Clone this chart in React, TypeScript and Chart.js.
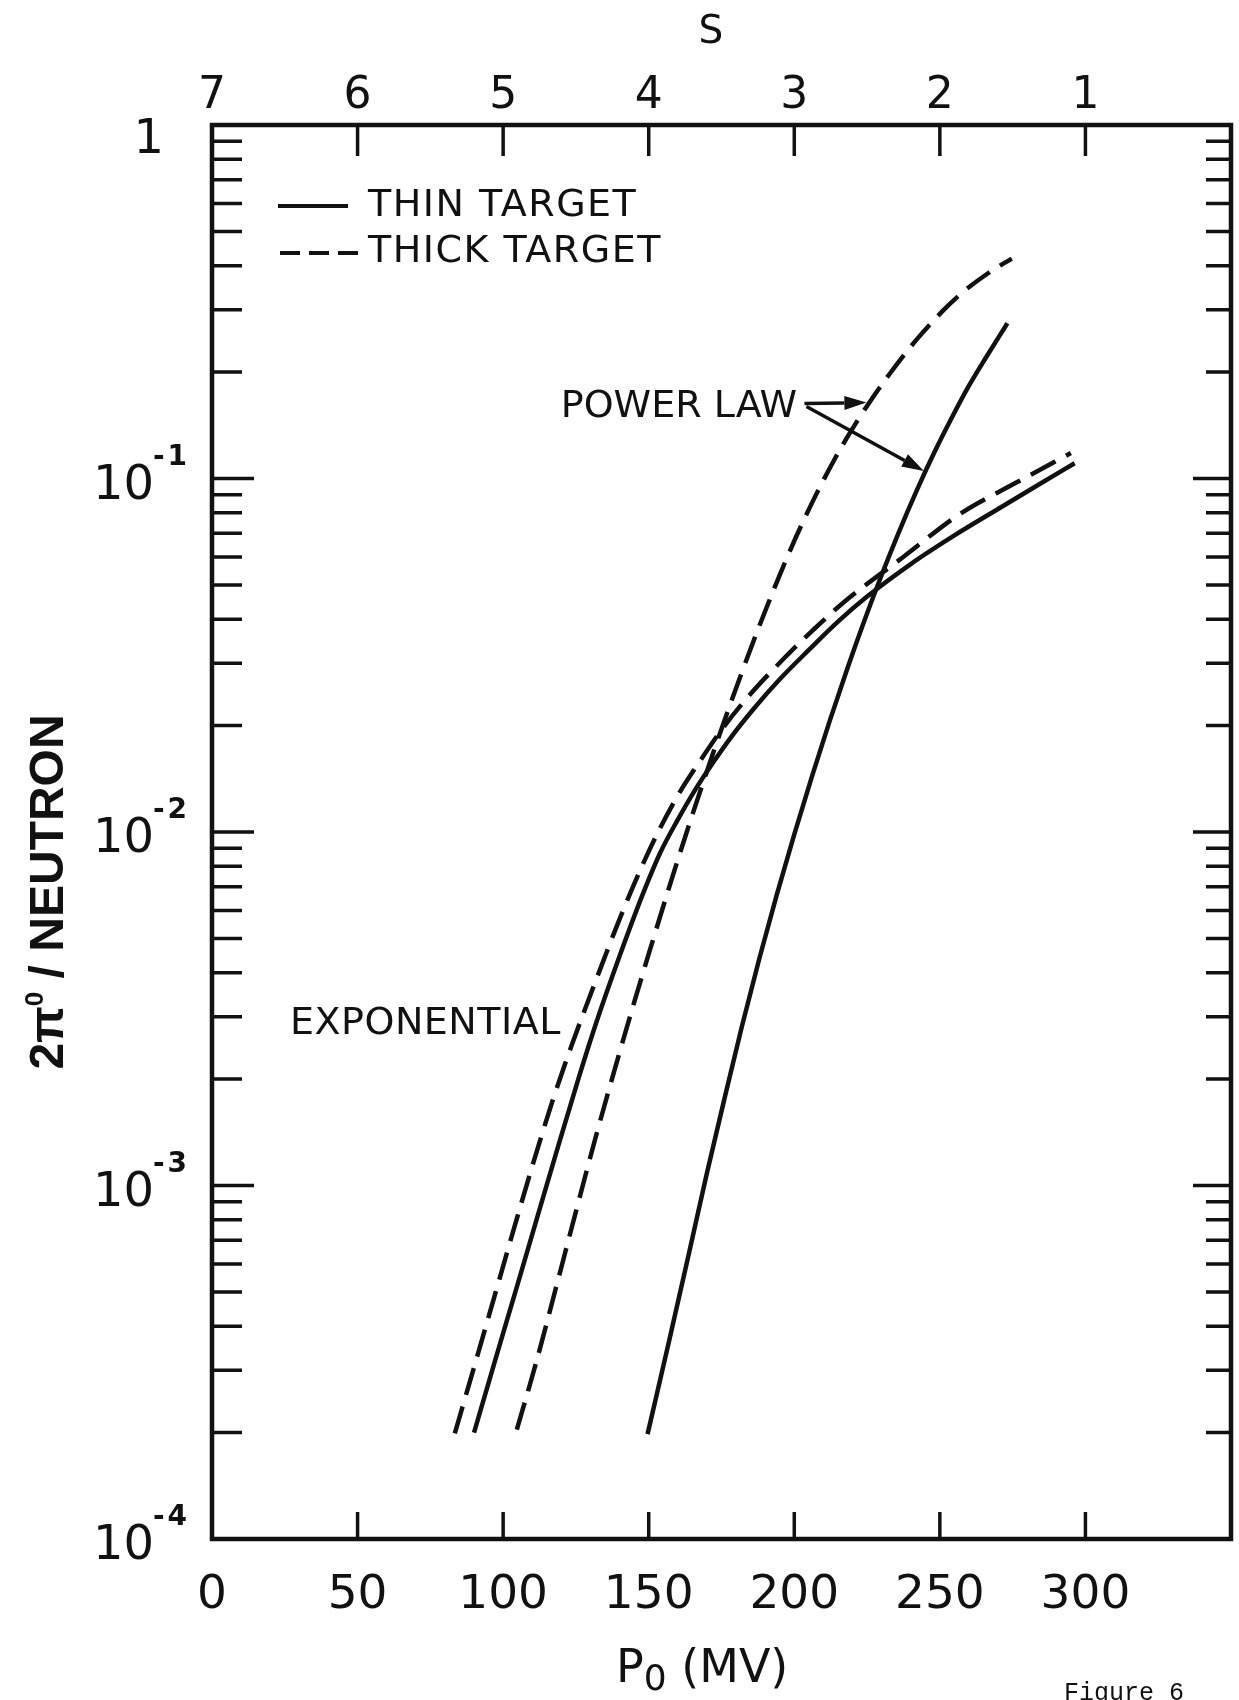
import { useEffect, useRef } from 'react';
import { Chart, registerables } from 'chart.js';

Chart.register(...registerables);

// ---------------- axis ranges & tick labels ----------------
const P0_MIN = 0;
const P0_MAX = 350;
const S_MIN = 0;
const S_MAX = 7;
const Y_MIN = 1e-4;
const Y_MAX = 1;

const X_TICKS = [0, 50, 100, 150, 200, 250, 300];
const X_TICK_LABELS = ['0', '50', '100', '150', '200', '250', '300'];
const S_TICKS = [7, 6, 5, 4, 3, 2, 1];
const S_TICK_LABELS = ['7', '6', '5', '4', '3', '2', '1'];
const Y_DECADES = [1e-4, 1e-3, 1e-2, 1e-1, 1];
const Y_LABEL_BASE = ['10', '10', '10', '10', '1'];
const Y_LABEL_EXP = ['-4', '-3', '-2', '-1', ''];
const Y_MINOR_STEPS = [2, 3, 4, 5, 6, 7, 8, 9];

const X_TITLE_MAIN = 'P';
const X_TITLE_SUB = '0';
const X_TITLE_REST = ' (MV)';
const TOP_TITLE = 'S';
const Y_TITLE_A = '2π';
const Y_TITLE_SUP = '0';
const Y_TITLE_B = ' / NEUTRON';
const LEGEND_LABELS = ['THIN TARGET', 'THICK TARGET'];
const POWER_LAW_TEXT = 'POWER LAW';
const EXPONENTIAL_TEXT = 'EXPONENTIAL';
const FIGURE_TEXT = 'Figure 6';

// ---------------- series (P0 in MV, 2π0 per neutron) ----------------
const THIN_EXP_P0 = [90, 97, 104, 111, 118, 126, 132, 140, 148, 154, 160, 166, 172, 178, 186, 195, 205, 215, 225, 240, 255, 270, 283, 296.3];
const THIN_EXP_Y = [2.0e-4, 3.15e-4, 4.94e-4, 7.76e-4, 1.219e-3, 2.023e-3, 2.891e-3, 4.457e-3, 6.68e-3, 8.75e-3, 1.084e-2, 1.318e-2, 1.567e-2, 1.841e-2, 2.228e-2, 2.704e-2, 3.273e-2, 3.936e-2, 4.634e-2, 5.728e-2, 6.902e-2, 8.2e-2, 9.51e-2, 0.1104];

const THICK_EXP_P0 = [83.4, 90.2, 97, 103.8, 110.5, 117.2, 123.6, 132.1, 140.1, 149.5, 158.8, 168.1, 176.1, 185.4, 196, 206.5, 216.5, 237.1, 256.9, 276.6, 295];
const THICK_EXP_Y = [1.99e-4, 3.1e-4, 4.85e-4, 7.6e-4, 1.17e-3, 1.76e-3, 2.5e-3, 3.85e-3, 5.7e-3, 8.63e-3, 1.22e-2, 1.61e-2, 2.0e-2, 2.48e-2, 3.07e-2, 3.73e-2, 4.43e-2, 5.97e-2, 7.94e-2, 9.77e-2, 0.118];

const THIN_POW_P0 = [149.6, 157, 164, 170, 176, 182, 188, 194, 200, 206, 212, 218, 224, 230, 236, 242, 248, 254, 260, 266, 273.2];
const THIN_POW_Y = [1.98e-4, 3.63e-4, 6.53e-4, 1.084e-3, 1.758e-3, 2.818e-3, 4.385e-3, 6.65e-3, 9.84e-3, 1.429e-2, 2.042e-2, 2.864e-2, 3.945e-2, 5.333e-2, 7.079e-2, 9.226e-2, 0.118, 0.148, 0.183, 0.221, 0.275];

const THICK_POW_P0 = [104.7, 111.2, 117.9, 124.7, 131.5, 138.3, 145, 150, 157, 164.4, 170, 176, 182, 188, 194, 200.4, 207.1, 213.8, 219.1, 225.8, 232.4, 241.7, 251, 257.6, 266.8, 274.7];
const THICK_POW_Y = [2.04e-4, 3.126e-4, 5.047e-4, 8.26e-4, 1.343e-3, 2.128e-3, 3.296e-3, 4.519e-3, 6.966e-3, 1.081e-2, 1.486e-2, 2.065e-2, 2.831e-2, 3.828e-2, 5.093e-2, 6.776e-2, 8.872e-2, 0.1132, 0.1346, 0.1641, 0.1959, 0.2455, 0.2979, 0.335, 0.382, 0.419];

// annotation anchors (data coordinates)
const POWER_LAW_ANCHOR = [201, 0.163]; // right end of label, vertical centre
const ARROW_START = [203.5, 0.163];
const ARROW_TIP_THICK = [225.8, 0.164]; // on the thick-target power-law curve
const ARROW_TIP_THIN = [245.2, 0.105]; // on the thin-target power-law curve
const EXPONENTIAL_ANCHOR = [26.8, 2.94e-3]; // left end of label, vertical centre

// ---------------- styles ----------------
const INK = '#111111';
const SANS = "'DejaVu Sans', 'Noto Sans', sans-serif";
const TITLE_SANS = "'Liberation Sans', 'DejaVu Sans', sans-serif";
const DASH = [28, 12];
const W = 1239;
const H = 1700;

const toPts = (xs: number[], ys: number[]) => xs.map((x, i) => ({ x, y: ys[i] }));

type Run = { text: string; font: string; dy?: number; spacing?: number };

function drawRuns(ctx: any, runs: Run[], x: number, baseline: number, align: 'left' | 'center' | 'right') {
  const widths: number[] = [];
  let total = 0;
  for (const r of runs) {
    ctx.font = r.font;
    ctx.letterSpacing = `${r.spacing || 0}px`;
    const w = ctx.measureText(r.text).width;
    widths.push(w);
    total += w;
  }
  let cx = align === 'center' ? x - total / 2 : align === 'right' ? x - total : x;
  ctx.textAlign = 'left';
  ctx.textBaseline = 'alphabetic';
  runs.forEach((r, i) => {
    ctx.font = r.font;
    ctx.letterSpacing = `${r.spacing || 0}px`;
    ctx.fillText(r.text, cx, baseline + (r.dy || 0));
    cx += widths[i];
  });
  ctx.letterSpacing = '0px';
  return total;
}

function arrow(ctx: CanvasRenderingContext2D, x0: number, y0: number, x1: number, y1: number) {
  const ang = Math.atan2(y1 - y0, x1 - x0);
  const len = 22;
  const half = 7;
  const bx = x1 - len * Math.cos(ang);
  const by = y1 - len * Math.sin(ang);
  ctx.beginPath();
  ctx.moveTo(x0, y0);
  ctx.lineTo(bx, by);
  ctx.stroke();
  ctx.beginPath();
  ctx.moveTo(x1, y1);
  ctx.lineTo(bx + half * Math.sin(ang), by - half * Math.cos(ang));
  ctx.lineTo(bx - half * Math.sin(ang), by + half * Math.cos(ang));
  ctx.closePath();
  ctx.fill();
}

const decorPlugin = {
  id: 'decor',
  afterDraw(chart: any) {
    const { ctx, chartArea: a, scales } = chart;
    const xs = scales.x;
    const ys = scales.y;
    const ss = scales.s;
    ctx.save();
    ctx.strokeStyle = INK;
    ctx.fillStyle = INK;
    ctx.lineCap = 'butt';

    // frame
    ctx.lineWidth = 4.5;
    ctx.strokeRect(a.left, a.top, a.right - a.left, a.bottom - a.top);

    // y ticks (inside, both sides)
    ctx.lineWidth = 3.5;
    Y_DECADES.forEach((d) => {
      [1, ...Y_MINOR_STEPS].forEach((m) => {
        const v = d * m;
        if (v <= Y_MIN || v >= Y_MAX) return;
        const py = ys.getPixelForValue(v);
        const major = m === 1;
        ctx.beginPath();
        ctx.moveTo(a.left, py);
        ctx.lineTo(a.left + (major ? 42 : 30), py);
        ctx.moveTo(a.right, py);
        ctx.lineTo(a.right - (major ? 38 : 25), py);
        ctx.stroke();
      });
    });

    // bottom ticks
    X_TICKS.forEach((t) => {
      if (t <= P0_MIN) return;
      const px = xs.getPixelForValue(t);
      ctx.beginPath();
      ctx.moveTo(px, a.bottom);
      ctx.lineTo(px, a.bottom - 27);
      ctx.stroke();
    });
    // top ticks (S scale)
    S_TICKS.forEach((t) => {
      if (t >= S_MAX) return;
      const px = ss.getPixelForValue(t);
      ctx.beginPath();
      ctx.moveTo(px, a.top);
      ctx.lineTo(px, a.top + 31);
      ctx.stroke();
    });

    // bottom tick labels
    X_TICKS.forEach((t, i) => {
      drawRuns(ctx, [{ text: X_TICK_LABELS[i], font: `47px ${SANS}` }], xs.getPixelForValue(t), a.bottom + 69, 'center');
    });
    // top tick labels
    S_TICKS.forEach((t, i) => {
      drawRuns(ctx, [{ text: S_TICK_LABELS[i], font: `44px ${SANS}` }], ss.getPixelForValue(t), a.top - 17, 'center');
    });
    // y labels
    Y_DECADES.forEach((d, i) => {
      const py = ys.getPixelForValue(d);
      ctx.font = `48px ${SANS}`;
      ctx.textAlign = 'right';
      ctx.textBaseline = 'alphabetic';
      if (Y_LABEL_EXP[i]) {
        const right = a.left - 58;
        ctx.fillText(Y_LABEL_BASE[i], right, py + 20);
        drawRuns(ctx, [{ text: Y_LABEL_EXP[i], font: `bold 28px ${SANS}`, spacing: 3 }], right - 1, py - 14, 'left');
      } else {
        ctx.fillText(Y_LABEL_BASE[i], a.left - 48, py + 28);
      }
    });

    // axis titles
    drawRuns(
      ctx,
      [
        { text: X_TITLE_MAIN, font: `46px ${SANS}` },
        { text: X_TITLE_SUB, font: `36px ${SANS}`, dy: 8 },
        { text: X_TITLE_REST, font: `46px ${SANS}` },
      ],
      a.left + 404,
      a.bottom + 143,
      'left'
    );
    drawRuns(ctx, [{ text: TOP_TITLE, font: `39px ${SANS}` }], a.left + 499, a.top - 82, 'center');

    ctx.save();
    ctx.translate(a.left - 166, (a.top + a.bottom) / 2 + 60);
    ctx.rotate(-Math.PI / 2);
    drawRuns(
      ctx,
      [
        { text: Y_TITLE_A, font: `bold 48px ${TITLE_SANS}` },
        { text: Y_TITLE_SUP, font: `bold 26px ${TITLE_SANS}`, dy: -20 },
        { text: Y_TITLE_B, font: `bold 48px ${TITLE_SANS}` },
      ],
      0,
      17,
      'center'
    );
    ctx.restore();

    // legend
    ctx.lineWidth = 4;
    ctx.beginPath();
    ctx.moveTo(a.left + 66, a.top + 81);
    ctx.lineTo(a.left + 136, a.top + 81);
    ctx.stroke();
    ctx.setLineDash([20, 9]);
    ctx.beginPath();
    ctx.moveTo(a.left + 68, a.top + 128);
    ctx.lineTo(a.left + 148, a.top + 128);
    ctx.stroke();
    ctx.setLineDash([]);
    drawRuns(ctx, [{ text: LEGEND_LABELS[0], font: `38px ${SANS}`, spacing: 1.5 }], a.left + 156, a.top + 91, 'left');
    drawRuns(ctx, [{ text: LEGEND_LABELS[1], font: `38px ${SANS}`, spacing: 1.5 }], a.left + 156, a.top + 137, 'left');

    // POWER LAW label + arrows
    const plx = xs.getPixelForValue(POWER_LAW_ANCHOR[0]);
    const ply = ys.getPixelForValue(POWER_LAW_ANCHOR[1]);
    drawRuns(ctx, [{ text: POWER_LAW_TEXT, font: `38px ${SANS}` }], plx, ply + 14, 'right');
    const sx = xs.getPixelForValue(ARROW_START[0]);
    const sy = ys.getPixelForValue(ARROW_START[1]);
    ctx.lineWidth = 3.5;
    arrow(ctx, sx, sy, xs.getPixelForValue(ARROW_TIP_THICK[0]) - 3, ys.getPixelForValue(ARROW_TIP_THICK[1]));
    arrow(ctx, sx + 2, sy + 3, xs.getPixelForValue(ARROW_TIP_THIN[0]) - 2, ys.getPixelForValue(ARROW_TIP_THIN[1]));

    // EXPONENTIAL label
    drawRuns(
      ctx,
      [{ text: EXPONENTIAL_TEXT, font: `38px ${SANS}`, spacing: 0.5 }],
      xs.getPixelForValue(EXPONENTIAL_ANCHOR[0]),
      ys.getPixelForValue(EXPONENTIAL_ANCHOR[1]) + 14,
      'left'
    );

    // figure caption
    drawRuns(ctx, [{ text: FIGURE_TEXT, font: `25px 'Liberation Mono', monospace` }], chart.width - 175, chart.height, 'left');

    ctx.restore();
  },
};

export default function App() {
  const ref = useRef<HTMLCanvasElement>(null);

  useEffect(() => {
    const common = {
      borderColor: INK,
      borderWidth: 4.5,
      pointRadius: 0,
      pointHoverRadius: 0,
      fill: false,
      cubicInterpolationMode: 'monotone' as const,
      borderCapStyle: 'butt' as const,
      xAxisID: 'x',
      yAxisID: 'y',
    };
    const chart = new Chart(ref.current as HTMLCanvasElement, {
      type: 'line',
      data: {
        datasets: [
          { ...common, label: 'Thin target, exponential', data: toPts(THIN_EXP_P0, THIN_EXP_Y) },
          { ...common, label: 'Thick target, exponential', data: toPts(THICK_EXP_P0, THICK_EXP_Y), borderDash: DASH },
          { ...common, label: 'Thin target, power law', data: toPts(THIN_POW_P0, THIN_POW_Y) },
          { ...common, label: 'Thick target, power law', data: toPts(THICK_POW_P0, THICK_POW_Y), borderDash: DASH },
        ],
      },
      options: {
        responsive: false,
        animation: false,
        devicePixelRatio: 1,
        layout: { padding: { left: 212, right: 8, top: 125, bottom: 161 } },
        plugins: { legend: { display: false }, tooltip: { enabled: false } },
        events: [],
        scales: {
          x: { type: 'linear', position: 'bottom', min: P0_MIN, max: P0_MAX, display: false },
          s: { type: 'linear', axis: 'x', position: 'top', min: S_MIN, max: S_MAX, reverse: true, display: false },
          y: { type: 'logarithmic', min: Y_MIN, max: Y_MAX, display: false },
        },
      },
      plugins: [decorPlugin],
    } as any);
    return () => chart.destroy();
  }, []);

  return (
    <div style={{ position: 'absolute', left: 0, top: 0, width: W, height: H, background: '#ffffff', overflow: 'hidden' }}>
      <canvas ref={ref} width={W} height={H} style={{ display: 'block', width: W, height: H }} />
    </div>
  );
}
